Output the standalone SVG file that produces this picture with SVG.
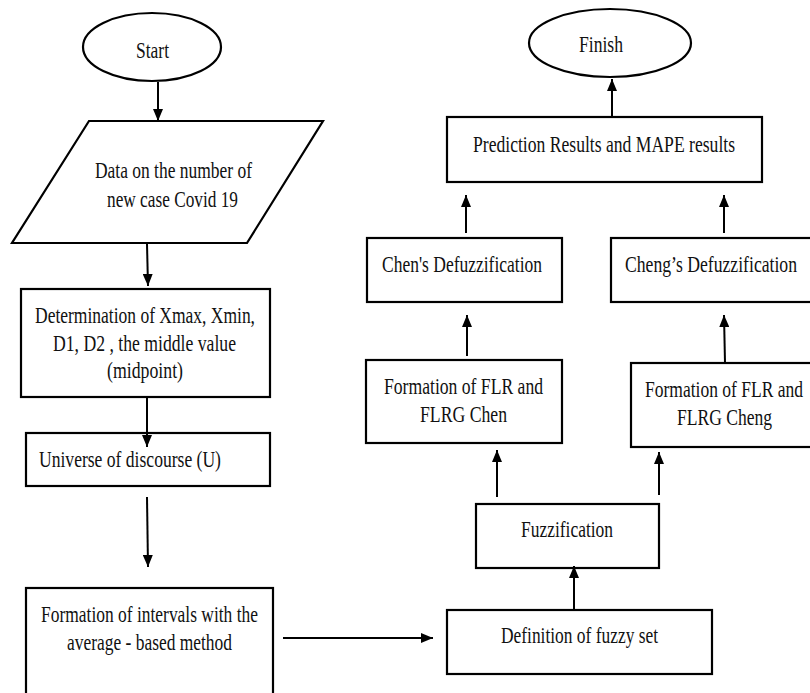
<svg xmlns="http://www.w3.org/2000/svg" width="810" height="693" viewBox="0 0 810 693">
<defs>
<marker id="ah" markerUnits="userSpaceOnUse" markerWidth="12" markerHeight="10" refX="12" refY="5" orient="auto">
<path d="M0,0 L12,5 L0,10 Z" fill="#000"/>
</marker>
<style>
.n{fill:#fff;stroke:#000;stroke-width:2.2}
.t{font-family:"Liberation Serif","Times New Roman",serif;font-size:24px;fill:#111;text-anchor:middle}
.l{text-anchor:start}
.c{stroke:#000;stroke-width:2;fill:none;marker-end:url(#ah)}
</style>
</defs>
<rect width="810" height="693" fill="#fff"/>

<g id="start">
<ellipse class="n" cx="152" cy="47" rx="69" ry="34"/>
<text class="t" transform="translate(152.5,58) scale(0.735,1)" textLength="44.9" lengthAdjust="spacingAndGlyphs">Start</text>
</g>
<g id="data">
<polygon class="n" points="89,121 323,121 247,243 12,243"/>
<text class="t" transform="translate(173.5,178) scale(0.735,1)" textLength="213.6" lengthAdjust="spacingAndGlyphs">Data on the number of</text>
<text class="t" transform="translate(172.5,207) scale(0.735,1)" textLength="178.2" lengthAdjust="spacingAndGlyphs">new case Covid 19</text>
</g>
<g id="determination">
<rect class="n" x="21" y="289" width="249" height="108"/>
<text class="t" transform="translate(145,323) scale(0.735,1)" textLength="299.3" lengthAdjust="spacingAndGlyphs">Determination of Xmax, Xmin,</text>
<text class="t" transform="translate(144.5,351) scale(0.735,1)" textLength="249" lengthAdjust="spacingAndGlyphs">D1, D2 , the middle value</text>
<text class="t" transform="translate(145,378) scale(0.735,1)" textLength="103.4" lengthAdjust="spacingAndGlyphs">(midpoint)</text>
</g>
<g id="universe">
<rect class="n" x="26" y="433" width="244" height="53"/>
<text class="t l" transform="translate(39,467) scale(0.735,1)" textLength="247.6" lengthAdjust="spacingAndGlyphs">Universe of discourse (U)</text>
</g>
<g id="intervals">
<rect class="n" x="26" y="588" width="247" height="115"/>
<text class="t" transform="translate(149.5,622) scale(0.735,1)" textLength="295.2" lengthAdjust="spacingAndGlyphs">Formation of intervals with the</text>
<text class="t" transform="translate(149.5,650) scale(0.735,1)" textLength="224.5" lengthAdjust="spacingAndGlyphs">average - based method</text>
</g>
<g id="definition">
<rect class="n" x="447" y="610" width="265" height="64"/>
<text class="t" transform="translate(579.5,643) scale(0.735,1)" textLength="213.6" lengthAdjust="spacingAndGlyphs">Definition of fuzzy set</text>
</g>
<g id="fuzzification">
<rect class="n" x="476" y="504" width="183" height="64"/>
<text class="t" transform="translate(567,537) scale(0.735,1)" textLength="125.2" lengthAdjust="spacingAndGlyphs">Fuzzification</text>
</g>
<g id="flr-chen">
<rect class="n" x="366" y="360" width="196" height="83"/>
<text class="t" transform="translate(463.5,394) scale(0.735,1)" textLength="216.3" lengthAdjust="spacingAndGlyphs">Formation of FLR and</text>
<text class="t" transform="translate(463.5,422) scale(0.735,1)" textLength="118.4" lengthAdjust="spacingAndGlyphs">FLRG Chen</text>
</g>
<g id="flr-cheng">
<rect class="n" x="631" y="363" width="185" height="84"/>
<text class="t" transform="translate(724,397) scale(0.735,1)" textLength="215" lengthAdjust="spacingAndGlyphs">Formation of FLR and</text>
<text class="t" transform="translate(724.5,425) scale(0.735,1)" textLength="129.3" lengthAdjust="spacingAndGlyphs">FLRG Cheng</text>
</g>
<g id="defuzz-chen">
<rect class="n" x="367" y="238" width="195" height="64"/>
<text class="t" transform="translate(462,272) scale(0.735,1)" textLength="217.7" lengthAdjust="spacingAndGlyphs">Chen's Defuzzification</text>
</g>
<g id="defuzz-cheng">
<rect class="n" x="611" y="238" width="205" height="64"/>
<text class="t" transform="translate(711,272) scale(0.735,1)" textLength="234" lengthAdjust="spacingAndGlyphs">Cheng’s Defuzzification</text>
</g>
<g id="prediction">
<rect class="n" x="447" y="117" width="315" height="65"/>
<text class="t" transform="translate(604,152) scale(0.735,1)" textLength="356.5" lengthAdjust="spacingAndGlyphs">Prediction Results and MAPE results</text>
</g>
<g id="finish">
<ellipse class="n" cx="610" cy="43" rx="81" ry="34"/>
<text class="t" transform="translate(601,52) scale(0.735,1)" textLength="59.9" lengthAdjust="spacingAndGlyphs">Finish</text>
</g>

<g id="connectors">
<line class="c" x1="158" y1="82" x2="158" y2="121"/>
<line class="c" x1="147" y1="244" x2="148" y2="286"/>
<line class="c" x1="147" y1="398" x2="147" y2="447"/>
<line class="c" x1="147" y1="497" x2="148" y2="567"/>
<line class="c" x1="283" y1="638" x2="433" y2="638"/>
<line class="c" x1="574" y1="610" x2="574" y2="566"/>
<line class="c" x1="497" y1="497" x2="497" y2="450"/>
<line class="c" x1="659" y1="495" x2="659" y2="452"/>
<line class="c" x1="467" y1="356" x2="467" y2="315"/>
<line class="c" x1="725" y1="363" x2="724" y2="315"/>
<line class="c" x1="466" y1="233" x2="466" y2="195"/>
<line class="c" x1="724" y1="233" x2="724" y2="195"/>
<line class="c" x1="612" y1="117" x2="612" y2="79"/>
</g>
</svg>
